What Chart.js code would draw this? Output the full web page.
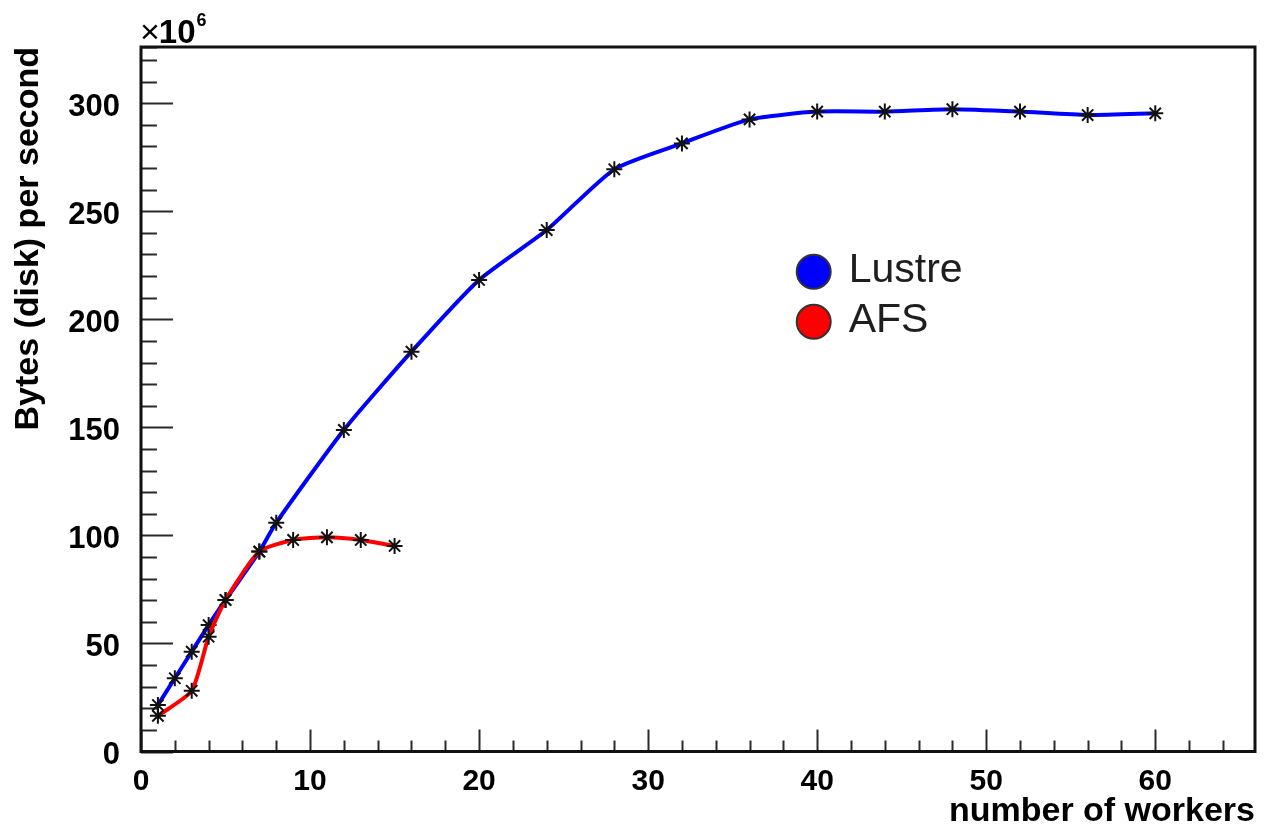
<!DOCTYPE html>
<html>
<head>
<meta charset="utf-8">
<script src="https://cdn.jsdelivr.net/npm/chart.js@4"></script>
<style>
  html, body { margin: 0; padding: 0; background: #ffffff; }
  canvas { display: block; }
</style>
</head>
<body>
<canvas id="chart" width="1265" height="829" style="width:1265px;height:829px"></canvas>
<script>
// ---- data (bytes per second, in units of 10^6) ----
const lustreWorkers = [1, 2, 3, 4, 5, 7, 8, 12, 16, 20, 24, 28, 32, 36, 40, 44, 48, 52, 56, 60];
const lustreRate    = [21.5, 33.9, 46.2, 58.5, 70.1, 92.5, 105.9, 148.8, 185, 218.2, 241.3, 269.4, 281.4, 292.5, 296.1, 296.1, 297.2, 296.1, 294.5, 295.3];
const afsWorkers    = [1, 3, 4, 5, 7, 9, 11, 13, 15];
const afsRate       = [16.5, 28.1, 53.1, 70.1, 92.5, 97.9, 99.1, 97.9, 95.1];
const seriesNames   = ['Lustre', 'AFS'];
const seriesColors  = ['#0000ff', '#ff0000'];
const xAxisTitle    = 'number of workers';
const yAxisTitle    = 'Bytes (disk) per second';
const xRange = [0, 65.9];
const yRange = [0, 326];
const xMinorStep = 2, xMajorStep = 10;
const yMinorStep = 10, yMajorStep = 50;

const tickFont = { family: "'Liberation Sans', Arial, sans-serif", weight: 'bold' };

function toPoints(xs, ys) { return xs.map((x, i) => ({ x: x, y: ys[i] })); }

const rootStyle = {
  id: 'rootStyle',
  beforeDatasetsDraw(chart) {
    const { ctx, chartArea: a, scales } = chart;
    const xs = scales.x, ys = scales.y;
    ctx.save();
    ctx.strokeStyle = '#2a2a2a';
    ctx.lineWidth = 2;
    ctx.beginPath();
    xs.ticks.forEach(t => {
      const px = Math.round(xs.getPixelForValue(t.value)) + 0.5;
      const len = (Math.abs(t.value % xMajorStep) < 1e-9) ? 22 : 11;
      ctx.moveTo(px, a.bottom);
      ctx.lineTo(px, a.bottom - len);
    });
    ys.ticks.forEach(t => {
      const py = Math.round(ys.getPixelForValue(t.value)) + 0.5;
      const len = (Math.abs(t.value % yMajorStep) < 1e-9) ? 32 : 16;
      ctx.moveTo(a.left, py);
      ctx.lineTo(a.left + len, py);
    });
    ctx.stroke();
    ctx.strokeStyle = '#111';
    ctx.lineWidth = 3;
    ctx.strokeRect(a.left, a.top, a.right - a.left, a.bottom - a.top);
    ctx.restore();
  },
  afterDraw(chart) {
    const { ctx, chartArea: a } = chart;
    ctx.save();
    // x10^6 exponent label
    ctx.fillStyle = '#000';
    ctx.textBaseline = 'alphabetic';
    ctx.textAlign = 'left';
    let bx = a.left - 1, by = a.top - 4;
    ctx.font = "normal 34px 'Liberation Sans', Arial, sans-serif";
    ctx.fillText('\u00d7', bx, by);
    bx += ctx.measureText('\u00d7').width - 1;
    ctx.font = "bold 33px 'Liberation Sans', Arial, sans-serif";
    ctx.fillText('10', bx, by);
    bx += ctx.measureText('10').width + 1;
    ctx.font = "bold 18px 'Liberation Sans', Arial, sans-serif";
    ctx.fillText('6', bx, by - 17);

    // legend
    const cx = a.left + 672.7;
    let cy = a.top + 224.7;
    chart.data.datasets.forEach(ds => {
      ctx.beginPath();
      ctx.arc(cx, cy, 17, 0, Math.PI * 2);
      ctx.fillStyle = ds.borderColor;
      ctx.fill();
      ctx.lineWidth = 2;
      ctx.strokeStyle = '#333';
      ctx.stroke();
      ctx.fillStyle = '#1e1e1e';
      ctx.font = "normal 41px 'Liberation Sans', Arial, sans-serif";
      ctx.textBaseline = 'middle';
      ctx.fillText(ds.label, cx + 35, cy - 1);
      cy += 50;
    });
    ctx.restore();
  }
};

const commonDs = {
  borderWidth: 4,
  tension: 0.2,
  pointStyle: 'star',
  pointRadius: 8,
  pointHoverRadius: 8,
  pointBorderColor: '#111',
  pointBackgroundColor: 'rgba(0,0,0,0)',
  pointBorderWidth: 2,
  fill: false
};

new Chart(document.getElementById('chart'), {
  type: 'line',
  data: {
    datasets: [
      Object.assign({}, commonDs, { label: seriesNames[0], data: toPoints(lustreWorkers, lustreRate), borderColor: seriesColors[0], order: 2 }),
      Object.assign({}, commonDs, { label: seriesNames[1], data: toPoints(afsWorkers, afsRate), borderColor: seriesColors[1], order: 1 })
    ]
  },
  options: {
    responsive: false,
    animation: false,
    devicePixelRatio: 1,
    layout: { padding: { left: 0, top: 47, right: 2.5, bottom: 0 } },
    plugins: { legend: { display: false }, tooltip: { enabled: false } },
    scales: {
      x: {
        type: 'linear',
        min: xRange[0], max: xRange[1],
        bounds: 'data',
        grid: { display: false },
        border: { display: false },
        ticks: {
          stepSize: xMinorStep,
          includeBounds: false,
          autoSkip: false,
          maxRotation: 0,
          padding: 4,
          color: '#000',
          font: Object.assign({ size: 30 }, tickFont),
          callback: v => (Math.abs(v % xMajorStep) < 1e-9 ? String(v) : '')
        },
        title: {
          display: true,
          text: xAxisTitle,
          align: 'end',
          color: '#000',
          padding: { top: 0, bottom: 0 },
          font: { family: "'Liberation Sans', Arial, sans-serif", weight: 'bold', size: 34, lineHeight: 1 }
        },
        afterFit: s => { s.height = 829 - 751.5; }
      },
      y: {
        type: 'linear',
        min: yRange[0], max: yRange[1],
        bounds: 'data',
        grid: { display: false },
        border: { display: false },
        ticks: {
          stepSize: yMinorStep,
          includeBounds: false,
          autoSkip: false,
          padding: 13,
          labelOffset: 4,
          color: '#000',
          font: Object.assign({ size: 31 }, tickFont),
          callback: v => (Math.abs(v % yMajorStep) < 1e-9 ? String(v) : '')
        },
        title: {
          display: true,
          text: yAxisTitle,
          align: 'end',
          color: '#000',
          padding: { top: 12, bottom: 0 },
          font: { family: "'Liberation Sans', Arial, sans-serif", weight: 'bold', size: 34, lineHeight: 1 }
        },
        afterFit: s => { s.width = 141; }
      }
    }
  },
  plugins: [rootStyle]
});
</script>
</body>
</html>
